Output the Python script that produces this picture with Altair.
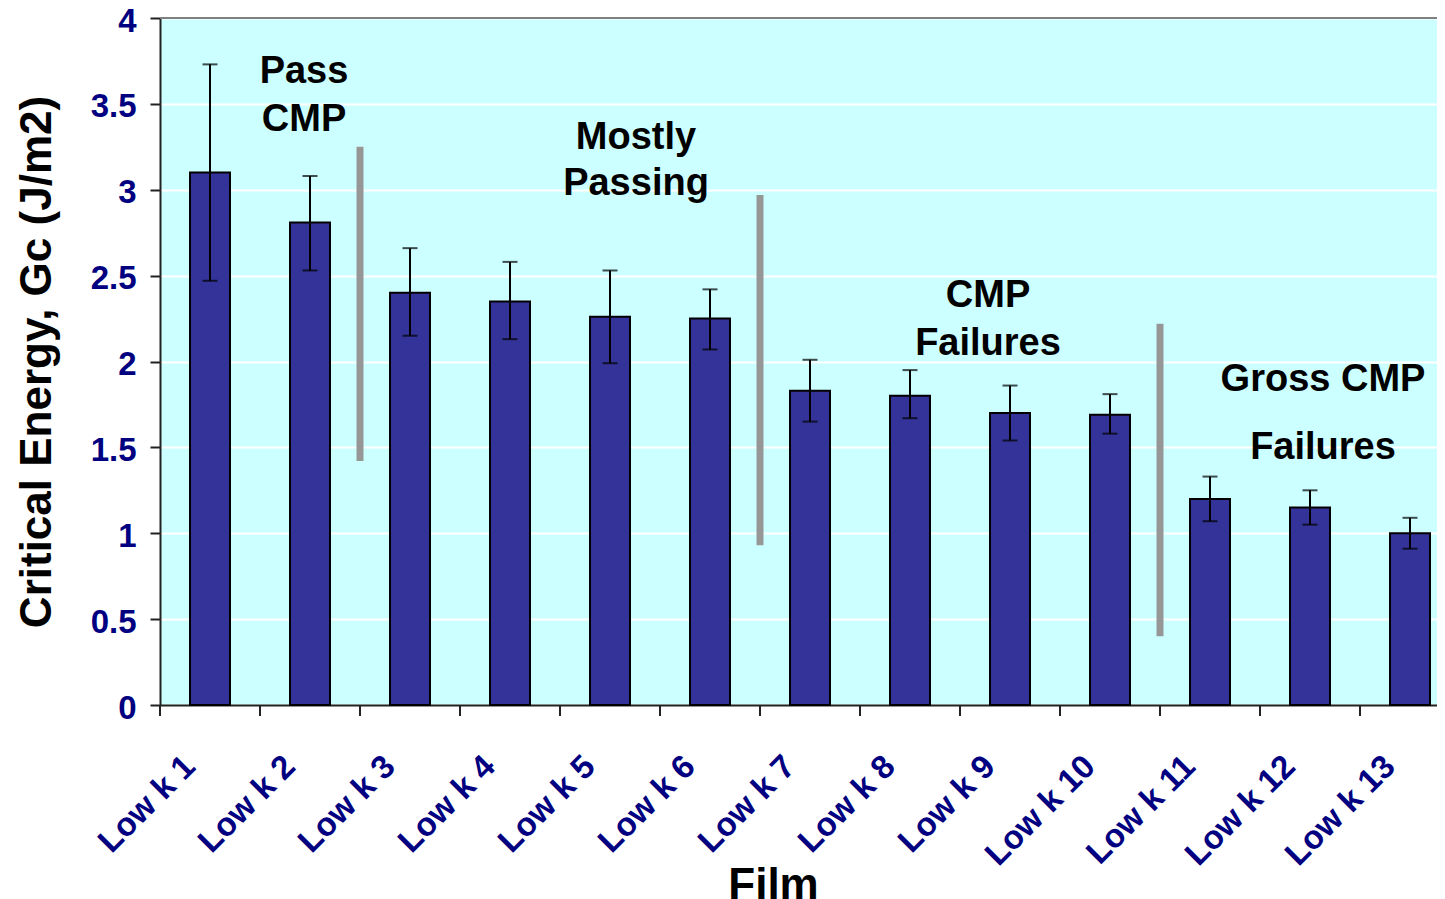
import altair as alt
import pandas as pd

FONT = "Liberation Sans"

films = [f"Low k {i}" for i in range(1, 14)]
gc = [3.10, 2.81, 2.40, 2.35, 2.26, 2.25, 1.83, 1.80, 1.70, 1.69, 1.20, 1.15, 1.00]
err_hi = [3.73, 3.08, 2.66, 2.58, 2.53, 2.42, 2.01, 1.95, 1.86, 1.81, 1.33, 1.25, 1.09]
err_lo = [2.47, 2.53, 2.15, 2.13, 1.99, 2.07, 1.65, 1.67, 1.54, 1.58, 1.07, 1.05, 0.91]

sep_films = ["Low k 3", "Low k 7", "Low k 11"]
sep_top = [3.25, 2.97, 2.22]
sep_bottom = [1.42, 0.93, 0.40]

ann_groups = [
    (["Pass", "CMP"], "Low k 2", [3.62, 3.34], -6),
    (["Mostly", "Passing"], "Low k 5", [3.24, 2.97], 26),
    (["CMP", "Failures"], "Low k 9", [2.32, 2.04], -22),
    (["Gross CMP", "Failures"], "Low k 12", [1.83, 1.43], 13),
]

y_ticks = [0, 0.5, 1, 1.5, 2, 2.5, 3, 3.5, 4]

df = pd.DataFrame({"film": films, "gc": gc, "lo": err_lo, "hi": err_hi})
sep_df = pd.DataFrame({"film": sep_films, "top": sep_top, "bottom": sep_bottom})
tick_df = pd.DataFrame({"film": films})

PLOT_W = 1277
xscale = alt.Scale(domain=films, range=[0, 1300], paddingInner=0, paddingOuter=0)
yscale = alt.Scale(domain=[0, 4], nice=False)

x_axis = alt.Axis(
    title="Film", labelAngle=315, labelAlign="right", labelBaseline="middle",
    labelFont=FONT, labelFontSize=33, labelFontWeight="bold", labelColor="#000080",
    labelPadding=56, labelOffset=-20, labelOverlap=False, ticks=False,
    domainColor="#222222", domainWidth=2, grid=False,
    titleFont=FONT, titleFontSize=44, titleFontWeight="bold", titleColor="black",
    titleX=613, titleY=193, titleBaseline="alphabetic",
)
y_axis = alt.Axis(
    title="Critical Energy, Gc (J/m2)", values=y_ticks, format="~g",
    labelFont=FONT, labelFontSize=33, labelFontWeight="bold", labelColor="#000080",
    labelPadding=14, labelOffset=3, tickSize=10, tickColor="#222222", tickWidth=2,
    domainColor="#222222", domainWidth=2,
    grid=True, gridColor="white", gridWidth=2,
    titleFont=FONT, titleFontSize=44, titleFontWeight="bold", titleColor="black",
    titleX=-110, titleBaseline="alphabetic",
)


def X(**kw):
    return alt.X("film:N", scale=xscale, axis=x_axis, sort=films, **kw)


def Y(field):
    return alt.Y(field, scale=yscale, axis=y_axis)


bars = alt.Chart(df).mark_bar(
    width=40, color="#333399", stroke="black", strokeWidth=2
).encode(x=X(), y=Y("gc:Q"))

err = alt.Chart(df).mark_rule(color="black", strokeWidth=2).encode(
    x=X(), y=Y("lo:Q"), y2="hi:Q"
)
cap_hi = alt.Chart(df).mark_tick(color="black", thickness=2, size=15).encode(
    x=X(), y=Y("hi:Q")
)
cap_lo = alt.Chart(df).mark_tick(color="black", thickness=2, size=15).encode(
    x=X(), y=Y("lo:Q")
)

seps = alt.Chart(sep_df).mark_rule(
    color="#969696", strokeWidth=7, strokeCap="butt"
).encode(x=X(bandPosition=0), y=Y("top:Q"), y2="bottom:Q")

xticks = alt.Chart(tick_df).mark_rule(color="#222222", strokeWidth=2).encode(
    x=X(bandPosition=0), y=alt.value(687), y2=alt.value(698)
)

top_border = alt.Chart(tick_df).mark_rule(color="#808080", strokeWidth=2).encode(
    x=alt.value(0), x2=alt.value(PLOT_W), y=alt.value(0)
)

ann_layers = []
for labels, film, vals, dx in ann_groups:
    adf = pd.DataFrame({"label": labels, "film": [film] * len(labels), "v": vals})
    ann_layers.append(
        alt.Chart(adf).mark_text(
            font=FONT, fontSize=38, fontWeight="bold", color="black",
            align="center", baseline="alphabetic", dx=dx
        ).encode(x=X(), y=Y("v:Q"), text="label:N")
    )

chart = alt.layer(
    bars, err, cap_hi, cap_lo, seps, *ann_layers, xticks, top_border
).properties(
    width=PLOT_W, height=687,
    autosize=alt.AutoSizeParams(type="none"),
    padding={"left": 152, "top": 10, "right": 0, "bottom": 194},
    background="white",
).configure_view(fill="#CCFFFF", stroke="transparent", strokeWidth=0)

chart.save("out.html", embed_options={"renderer": "svg", "actions": False})
